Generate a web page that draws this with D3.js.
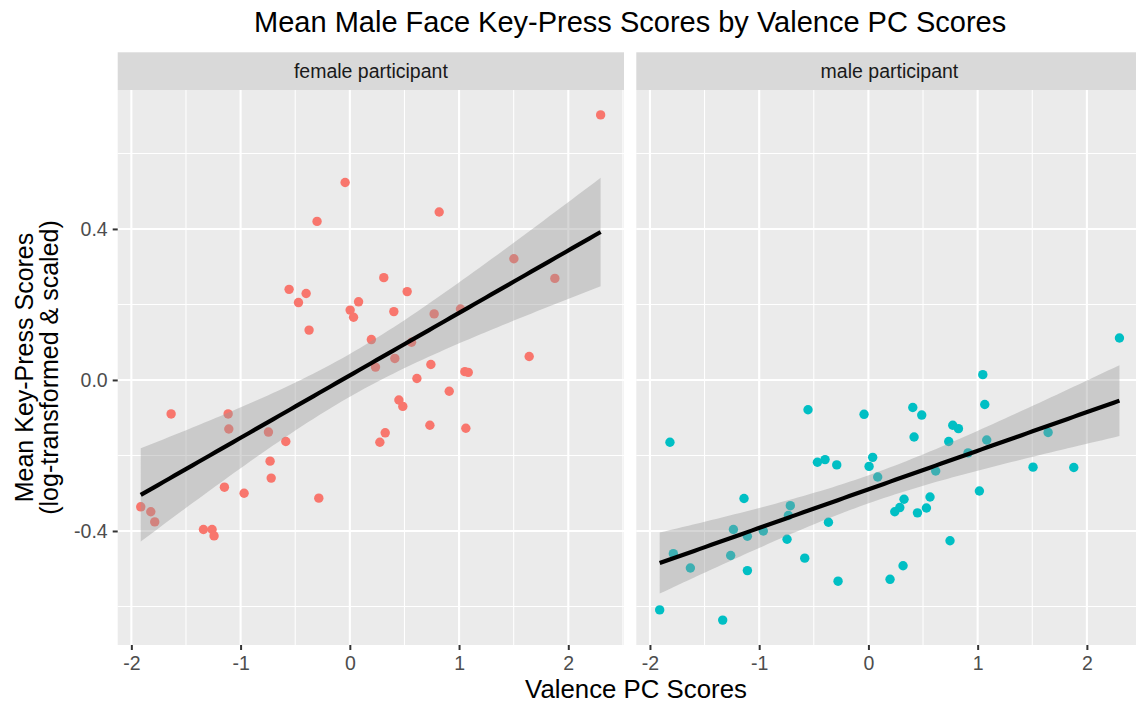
<!DOCTYPE html>
<html>
<head>
<meta charset="utf-8">
<title>Mean Male Face Key-Press Scores by Valence PC Scores</title>
<script src="https://d3js.org/d3.v7.min.js"></script>
<style>
  body { margin: 0; background: #ffffff; }
  svg { display: block; font-family: "Liberation Sans", Arial, Helvetica, sans-serif; }
</style>
</head>
<body>
<div id="chart"></div>
<script>
// data
var femaleX = [-0.043, -0.30, -0.556, -0.40, -0.47, 0.08, 0.003, 0.034, -0.373, 0.197,
               2.296, 0.818, 1.502, 0.311, 1.877, 0.525, 0.403, 0.772, 1.013, 0.565,
               0.235, -1.636, -1.114, -1.108, -0.745, -0.586, -0.73, -0.72, -1.148, -0.968,
               -0.284, -1.914, -1.822, -1.786, -1.34, -1.261, -1.243, 0.275, 1.642, 0.412,
               0.742, 1.053, 1.084, 0.614, 0.910, 0.449, 0.485, 0.733, 1.062, 0.324];
var femaleY = [0.523, 0.42, 0.240, 0.229, 0.205, 0.207, 0.185, 0.166, 0.132, 0.107,
               0.702, 0.445, 0.321, 0.271, 0.269, 0.234, 0.181, 0.175, 0.188, 0.100,
               0.034, -0.090, -0.090, -0.130, -0.138, -0.163, -0.215, -0.260, -0.284, -0.300,
               -0.313, -0.336, -0.349, -0.376, -0.396, -0.396, -0.413, -0.165, 0.062, 0.057,
               0.041, 0.022, 0.020, 0.004, -0.030, -0.053, -0.070, -0.120, -0.128, -0.140];

var maleX = [-0.553, -0.040, -1.817, -0.467, -0.397, -0.290, 0.039, 0.006, 0.085, -1.139,
             -0.715, -0.733, -0.366, -1.236, -0.962, -1.108, -0.745, -1.786, -1.261, -0.583,
             -1.630, -1.108, -0.278, -1.911, -1.334, 2.298, 1.047, 1.065, 0.406, 0.488,
             0.772, 0.824, 1.645, 0.418, 0.735, 1.083, 0.912, 0.616, 1.507, 1.880,
             1.016, 0.326, 0.564, 0.287, 0.241, 0.531, 0.449, 0.747, 0.317, 0.198];
var maleY = [-0.079, -0.091, -0.165, -0.218, -0.211, -0.225, -0.205, -0.229, -0.257, -0.314,
             -0.333, -0.359, -0.377, -0.396, -0.400, -0.414, -0.422, -0.460, -0.465, -0.472,
             -0.498, -0.505, -0.533, -0.609, -0.636, 0.111, 0.014, -0.065, -0.073, -0.093,
             -0.120, -0.129, -0.139, -0.151, -0.163, -0.159, -0.193, -0.241, -0.231, -0.232,
             -0.294, -0.316, -0.310, -0.338, -0.349, -0.339, -0.352, -0.426, -0.492, -0.528];

var panelLabels = ["female participant", "male participant"];
var pointColors = ["#F8766D", "#00BFC4"];
var xTicks = [-2, -1, 0, 1, 2];
var xMinor = [-1.5, -0.5, 0.5, 1.5, 2.5];
var yTicks = [-0.4, 0.0, 0.4];
var yMinor = [-0.6, -0.2, 0.2, 0.6];

var width = 1136, height = 707;
var panelW = 506.3, panelTop = 90, panelBottom = 645, stripTop = 52.3;
var panelLeft = [117.7, 636.3];

var svg = d3.select("#chart").append("svg")
  .attr("width", width)
  .attr("height", height);

var x = d3.scaleLinear().domain([-2.125, 2.51]).range([0, panelW]);
var y = d3.scaleLinear().domain([-0.702, 0.768]).range([panelBottom, panelTop]);

// linear fit with 95% confidence band, like geom_smooth(method = "lm")
function fitLine(xs, ys) {
  var n = xs.length;
  var mx = d3.mean(xs), my = d3.mean(ys);
  var sxx = 0, sxy = 0;
  for (var i = 0; i < n; i++) {
    sxx += (xs[i] - mx) * (xs[i] - mx);
    sxy += (xs[i] - mx) * (ys[i] - my);
  }
  var b = sxy / sxx, a = my - b * mx;
  var sse = 0;
  for (var j = 0; j < n; j++) {
    var r = ys[j] - (a + b * xs[j]);
    sse += r * r;
  }
  var s2 = sse / (n - 2);
  var df = n - 2, z = 1.959964;
  var t = z + (Math.pow(z, 3) + z) / (4 * df) +
          (5 * Math.pow(z, 5) + 16 * Math.pow(z, 3) + 3 * z) / (96 * df * df);
  var lo = d3.min(xs), hi = d3.max(xs);
  var out = [];
  for (var k = 0; k <= 80; k++) {
    var xv = lo + (hi - lo) * k / 80;
    var fit = a + b * xv;
    var se = Math.sqrt(s2 * (1 / n + (xv - mx) * (xv - mx) / sxx));
    out.push({x: xv, fit: fit, lo: fit - t * se, hi: fit + t * se});
  }
  return out;
}

var panels = [
  {xs: femaleX, ys: femaleY},
  {xs: maleX, ys: maleY}
];

panels.forEach(function(p, i) {
  var g = svg.append("g").attr("transform", "translate(" + panelLeft[i] + ",0)");

  // strip
  g.append("rect")
    .attr("x", 0).attr("y", stripTop)
    .attr("width", panelW).attr("height", panelTop - stripTop)
    .attr("fill", "#D9D9D9");
  g.append("text")
    .attr("x", panelW / 2).attr("y", 78)
    .attr("text-anchor", "middle")
    .attr("font-size", 19.5)
    .attr("fill", "#1A1A1A")
    .text(panelLabels[i]);

  // panel background and grid
  g.append("rect")
    .attr("x", 0).attr("y", panelTop)
    .attr("width", panelW).attr("height", panelBottom - panelTop)
    .attr("fill", "#EBEBEB");

  g.selectAll(".xminor").data(xMinor).enter().append("line")
    .attr("x1", function(d) { return x(d); }).attr("x2", function(d) { return x(d); })
    .attr("y1", panelTop).attr("y2", panelBottom)
    .attr("stroke", "#ffffff").attr("stroke-width", 1.05);
  g.selectAll(".yminor").data(yMinor).enter().append("line")
    .attr("x1", 0).attr("x2", panelW)
    .attr("y1", function(d) { return y(d); }).attr("y2", function(d) { return y(d); })
    .attr("stroke", "#ffffff").attr("stroke-width", 1.05);
  g.selectAll(".xmajor").data(xTicks).enter().append("line")
    .attr("x1", function(d) { return x(d); }).attr("x2", function(d) { return x(d); })
    .attr("y1", panelTop).attr("y2", panelBottom)
    .attr("stroke", "#ffffff").attr("stroke-width", 2.1);
  g.selectAll(".ymajor").data(yTicks).enter().append("line")
    .attr("x1", 0).attr("x2", panelW)
    .attr("y1", function(d) { return y(d); }).attr("y2", function(d) { return y(d); })
    .attr("stroke", "#ffffff").attr("stroke-width", 2.1);

  // points
  g.selectAll("circle").data(d3.range(p.xs.length)).enter().append("circle")
    .attr("cx", function(k) { return x(p.xs[k]); })
    .attr("cy", function(k) { return y(p.ys[k]); })
    .attr("r", 4.7)
    .attr("fill", pointColors[i]);

  // smooth band and line
  var fit = fitLine(p.xs, p.ys);
  var band = d3.area()
    .x(function(d) { return x(d.x); })
    .y0(function(d) { return y(d.lo); })
    .y1(function(d) { return y(d.hi); });
  g.append("path").datum(fit)
    .attr("d", band)
    .attr("fill", "#999999")
    .attr("fill-opacity", 0.4);
  var line = d3.line()
    .x(function(d) { return x(d.x); })
    .y(function(d) { return y(d.fit); });
  g.append("path").datum(fit)
    .attr("d", line)
    .attr("fill", "none")
    .attr("stroke", "#000000")
    .attr("stroke-width", 4.2);

  // x axis
  var xAxis = g.append("g")
    .attr("transform", "translate(0," + panelBottom + ")")
    .call(d3.axisBottom(x).tickValues(xTicks).tickSize(5).tickPadding(6)
      .tickFormat(function(d) { return String(d); }));
  xAxis.select(".domain").remove();
  xAxis.selectAll(".tick line").attr("stroke", "#333333").attr("stroke-width", 2);
  xAxis.selectAll(".tick text")
    .attr("fill", "#4D4D4D")
    .attr("font-size", 19.5)
    .attr("font-family", "Liberation Sans, Arial, Helvetica, sans-serif");
});

// y axis (left panel only)
var yAxis = svg.append("g")
  .attr("transform", "translate(" + panelLeft[0] + ",0)")
  .call(d3.axisLeft(y).tickValues(yTicks).tickSize(5).tickPadding(5)
    .tickFormat(function(d) { return d.toFixed(1); }));
yAxis.select(".domain").remove();
yAxis.selectAll(".tick line").attr("stroke", "#333333").attr("stroke-width", 2);
yAxis.selectAll(".tick text")
  .attr("fill", "#4D4D4D")
  .attr("font-size", 19.5)
  .attr("font-family", "Liberation Sans, Arial, Helvetica, sans-serif");

// titles
var plotMid = (panelLeft[0] + panelLeft[1] + panelW) / 2;
svg.append("text")
  .attr("x", plotMid).attr("y", 32)
  .attr("text-anchor", "middle")
  .attr("font-size", 29)
  .attr("fill", "#000000")
  .text("Mean Male Face Key-Press Scores by Valence PC Scores");

svg.append("text")
  .attr("x", 636).attr("y", 698)
  .attr("text-anchor", "middle")
  .attr("font-size", 25.8)
  .attr("fill", "#000000")
  .text("Valence PC Scores");

var yMid = (panelTop + panelBottom) / 2;
svg.append("text")
  .attr("transform", "translate(32.5," + yMid + ") rotate(-90)")
  .attr("text-anchor", "middle")
  .attr("font-size", 25)
  .attr("fill", "#000000")
  .text("Mean Key-Press Scores");
svg.append("text")
  .attr("transform", "translate(57.5," + yMid + ") rotate(-90)")
  .attr("text-anchor", "middle")
  .attr("font-size", 25)
  .attr("fill", "#000000")
  .text("(log-transformed & scaled)");
</script>
</body>
</html>
